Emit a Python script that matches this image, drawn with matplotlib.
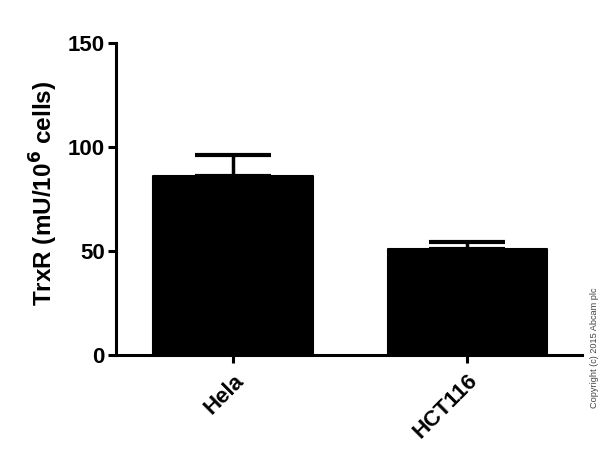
import matplotlib
matplotlib.use("Agg")
import matplotlib.pyplot as plt

plt.rcParams["font.family"] = ["Liberation Sans", "DejaVu Sans"]
plt.rcParams["font.weight"] = "bold"

cells = ["Hela", "HCT116"]
trxr = [86, 50.8]
sem = [10.2, 3.7]
yticks = [0, 50, 100, 150]

fig = plt.figure(figsize=(6, 4.72), dpi=100)
ax = fig.add_axes([0.1933, 0.2479, 0.7767, 0.661])

x = list(range(len(cells)))
bars = ax.bar(x, trxr, width=0.68, color="black", edgecolor="black",
              linewidth=1.5, zorder=2)
for b in bars:
    b.set_joinstyle("round")
ax.errorbar(x, trxr, yerr=[[0] * len(sem), sem], fmt="none", ecolor="black",
            elinewidth=2.5, capsize=27.5, capthick=3, zorder=1)

ax.set_xlim(-0.5, 1.49)
ax.set_ylim(0, 150)
ax.set_yticks(yticks)
ax.set_xticks(x)
ax.set_xticklabels(cells, rotation=45, ha="right", rotation_mode="anchor",
                   fontsize=16, fontweight="bold")
ax.tick_params(axis="y", labelsize=16, width=2.2, length=6, pad=2)
ax.tick_params(axis="x", width=2.2, length=6, pad=5)
for lbl in ax.get_yticklabels():
    lbl.set_fontweight("bold")

for side in ["top", "right"]:
    ax.spines[side].set_visible(False)
for side in ["left", "bottom"]:
    ax.spines[side].set_linewidth(2.2)

ax.set_ylabel("TrxR (mU/10$^\\mathbf{6}$ cells)", fontsize=17.5, fontweight="bold")
ax.yaxis.set_label_coords(-0.12, 0.518)

fig.text(0.991, 0.263, "Copyright (c) 2015 Abcam plc", rotation=90,
         fontsize=6.6, color="#444444", ha="center", va="center",
         fontweight="normal")

fig.savefig("out.png", dpi=100, facecolor="white")
